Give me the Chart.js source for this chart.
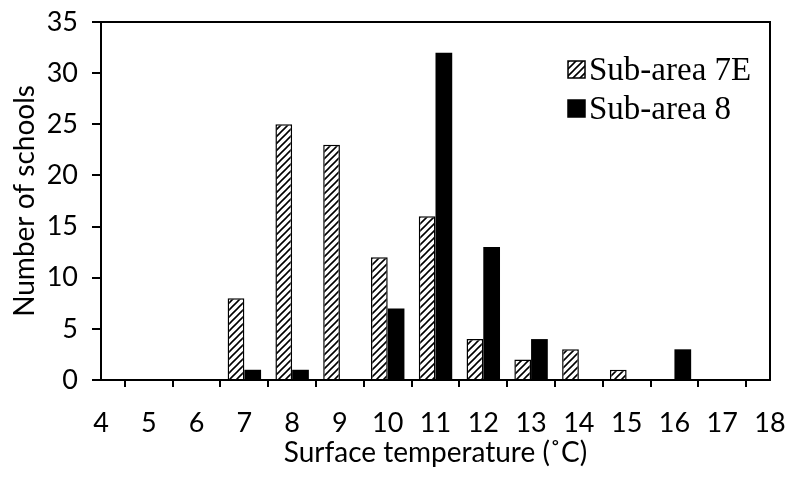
<!DOCTYPE html>
<html>
<head>
<meta charset="utf-8">
<script src="https://cdn.jsdelivr.net/npm/chart.js@4.4.0/dist/chart.umd.min.js"></script>
<style>
    html, body { margin: 0; padding: 0; background: #fff; }
    #wrap { width: 789px; height: 484px; }
</style>
</head>
<body>
<div id="wrap"><canvas id="chart"></canvas></div>
<script>
const temperatures = ['4', '5', '6', '7', '8', '9', '10', '11', '12', '13', '14', '15', '16', '17', '18'];
const subArea7E = [0, 0, 0, 8, 25, 23, 12, 16, 4, 2, 3, 1, 0, 0, 0];
const subArea8 = [0, 0, 0, 1, 1, 0, 7, 32, 13, 4, 0, 0, 3, 0, 0];
const yTicks = [0, 5, 10, 15, 20, 25, 30, 35];
const seriesNames = ['Sub-area 7E', 'Sub-area 8'];

function makeHatch() {
    const c = document.createElement('canvas');
    c.width = 7;
    c.height = 7;
    const g = c.getContext('2d');
    g.fillStyle = '#fff';
    g.fillRect(0, 0, 7, 7);
    g.strokeStyle = '#000';
    g.lineWidth = 1.6;
    g.beginPath();
    g.moveTo(0, 7); g.lineTo(7, 0);
    g.moveTo(-3.5, 3.5); g.lineTo(3.5, -3.5);
    g.moveTo(3.5, 10.5); g.lineTo(10.5, 3.5);
    g.stroke();
    return g.createPattern(c, 'repeat');
}

const hatch = makeHatch();
const tickFont = { family: 'Lato', size: 27 };
const titleFont = { family: 'Lato', size: 28 };

// box round the plot and the legend in the upper right corner
const frameAndLegend = {
    id: 'frameAndLegend',
    afterDraw(chart) {
        const { ctx, chartArea: a } = chart;
        ctx.save();
        ctx.strokeStyle = '#000';
        ctx.lineWidth = 2;
        ctx.beginPath();
        ctx.moveTo(a.left, a.top);
        ctx.lineTo(a.right, a.top);
        ctx.lineTo(a.right, a.bottom);
        ctx.stroke();

        ctx.font = '33px "Liberation Serif"';
        ctx.textBaseline = 'middle';
        const x = 568;
        const rows = [70, 109];
        rows.forEach((y, i) => {
            ctx.fillStyle = i === 0 ? hatch : '#000';
            ctx.fillRect(x, y - 9, 17, 17);
            ctx.lineWidth = 1.5;
            ctx.strokeRect(x, y - 9, 17, 17);
            ctx.fillStyle = '#000';
            ctx.fillText(seriesNames[i], x + 21, y + 1);
        });
        ctx.restore();
    }
};

new Chart(document.getElementById('chart'), {
    type: 'bar',
    data: {
        labels: temperatures,
        datasets: [{
            label: seriesNames[0],
            data: subArea7E,
            backgroundColor: hatch,
            borderColor: '#000',
            borderWidth: 1.5,
            borderSkipped: 'bottom'
        }, {
            label: seriesNames[1],
            data: subArea8,
            backgroundColor: '#000',
            borderColor: '#000',
            borderWidth: 0
        }]
    },
    options: {
        responsive: true,
        maintainAspectRatio: false,
        animation: false,
        layout: { padding: { left: 8, right: 19, top: 22, bottom: 14 } },
        datasets: { bar: { barPercentage: 1, categoryPercentage: 0.7 } },
        plugins: {
            legend: { display: false },
            tooltip: { enabled: false }
        },
        scales: {
            x: {
                type: 'category',
                offset: false,
                grid: {
                    drawOnChartArea: false,
                    color: '#000',
                    tickLength: 7,
                    lineWidth: 2
                },
                border: { color: '#000', width: 2 },
                ticks: {
                    color: '#000',
                    font: tickFont,
                    padding: 20,
                    maxRotation: 0,
                    autoSkip: false
                },
                title: {
                    display: true,
                    text: 'Surface temperature (˚C)',
                    color: '#000',
                    font: titleFont,
                    padding: { top: 0, bottom: 0 }
                },
                afterFit(scale) {
                    scale.height = 90;
                    scale.paddingLeft = 0;
                    scale.paddingRight = 0;
                }
            },
            y: {
                min: 0,
                max: 35,
                afterBuildTicks(scale) { scale.ticks = yTicks.map(v => ({ value: v })); },
                grid: {
                    drawOnChartArea: false,
                    color: '#000',
                    tickLength: 9,
                    lineWidth: 2
                },
                border: { color: '#000', width: 2 },
                ticks: {
                    color: '#000',
                    font: tickFont,
                    padding: 14
                },
                title: {
                    display: true,
                    text: 'Number of schools',
                    color: '#000',
                    font: titleFont,
                    padding: { top: 0, bottom: 0 }
                },
                afterFit(scale) {
                    scale.width = 93;
                    scale.paddingTop = 0;
                    scale.paddingBottom = 0;
                }
            }
        }
    },
    plugins: [frameAndLegend]
});
</script>
</body>
</html>
